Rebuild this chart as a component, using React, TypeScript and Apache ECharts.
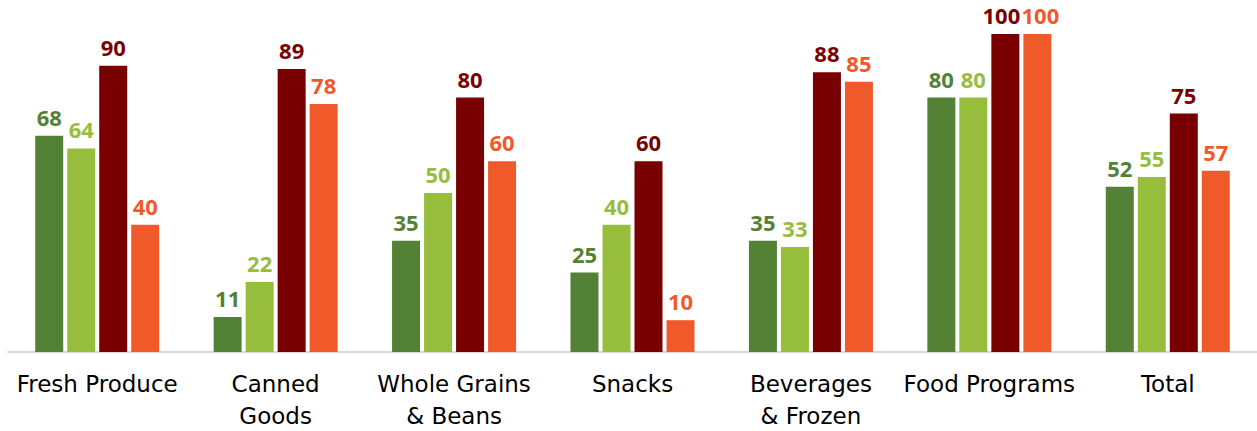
import React, { useEffect, useRef } from "react";
import * as echarts from "echarts";

const categories = [
  "Fresh Produce",
  "Canned\nGoods",
  "Whole Grains\n& Beans",
  "Snacks",
  "Beverages\n& Frozen",
  "Food Programs",
  "Total",
];
const seriesA = [68, 11, 35, 25, 35, 80, 52];
const seriesB = [64, 22, 50, 40, 33, 80, 55];
const seriesC = [90, 89, 80, 60, 88, 100, 75];
const seriesD = [40, 78, 60, 10, 85, 100, 57];
const colors = ["#538135", "#97BD3D", "#780000", "#F05A2B"];

export default function App() {
  const ref = useRef<HTMLDivElement>(null);
  useEffect(() => {
    if (!ref.current) return;
    const chart = echarts.init(ref.current, null, { renderer: "svg" });
    const mk = (name: string, data: number[], color: string, shift: number) => ({
      name,
      type: "bar",
      data: data.map((v) =>
        v >= 100 && shift !== 0 ? { value: v, label: { offset: [shift, 0] } } : v
      ),
      barWidth: 28,
      barGap: "14.3%",
      itemStyle: { color },
      label: {
        show: true,
        position: "top",
        distance: 8,
        color,
        fontFamily: "Open Sans",
        fontWeight: "bold",
        fontSize: 22,
      },
    });
    chart.setOption({
      animation: false,
      grid: {
        left: 8,
        right: 0,
        top: 34,
        bottom: 79,
        containLabel: false,
        outerBoundsMode: "none",
      },
      xAxis: {
        type: "category",
        data: categories,
        axisLine: { show: true, lineStyle: { color: "#D9D9D9", width: 2 } },
        axisTick: { show: false },
        axisLabel: {
          color: "#000",
          fontFamily: "DejaVu Sans",
          fontSize: 23,
          margin: 16,
          lineHeight: 32,
          interval: 0,
        },
      },
      yAxis: {
        type: "value",
        min: 0,
        max: 100,
        show: false,
        splitLine: { show: false },
      },
      series: [
        mk("A", seriesA, colors[0], 0),
        mk("B", seriesB, colors[1], 0),
        mk("C", seriesC, colors[2], -4),
        mk("D", seriesD, colors[3], 3),
      ],
    });
    return () => chart.dispose();
  }, []);
  return (
    <div
      ref={ref}
      style={{ position: "absolute", left: 0, top: 0, width: 1257, height: 431 }}
    />
  );
}
